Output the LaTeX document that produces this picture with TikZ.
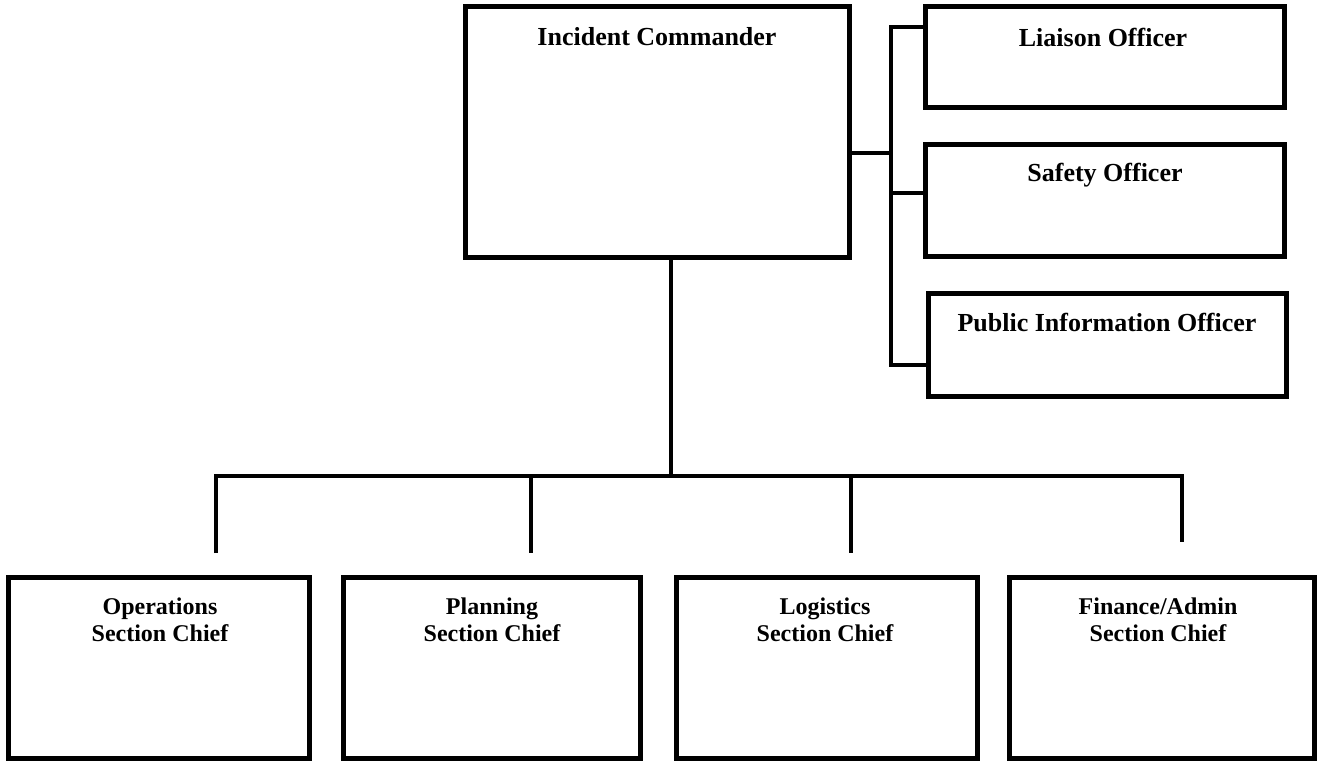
\documentclass[tikz,border=0pt]{standalone}
\usepackage{fontspec}
\setmainfont{Liberation Serif}
\usetikzlibrary{positioning}

\tikzset{
  box/.style n args={2}{draw, line width=2.5pt, minimum width=#1, minimum height=#2, inner sep=0pt},
  toplbl/.style={font=\fontsize{13}{15}\selectfont\bfseries, align=center},
  botlbl/.style={font=\fontsize{12}{13.5}\selectfont\bfseries, align=center},
  conn/.style={line width=2.2pt},
}

\begin{document}
\begin{tikzpicture}[x=0.5pt, y=-0.5pt]

  \useasboundingbox (0,0) rectangle (1317,761);

  % boxes
  \node[box={192pt}{125.5pt}] (ic) at (657,131.5) {};
  \node[box={179.5pt}{50.5pt}] (lo) at (1104.5,56.5) {};
  \node[box={179.5pt}{56pt}] (so) at (1104.5,200) {};
  \node[box={179pt}{51.5pt}] (pio) at (1107,344.5) {};
  \node[box={150.5pt}{90.5pt}] (ops) at (158.5,667.5) {};
  \node[box={148.5pt}{90.5pt}] (plan) at (491.5,667.5) {};
  \node[box={150.5pt}{90.5pt}] (log) at (826.5,667.5) {};
  \node[box={152.5pt}{90.5pt}] (fin) at (1161.5,667.5) {};

  % names of boxes
  \node[toplbl] (icT) at (657,37) {Incident Commander};
  \node[toplbl] (loT) at (1103,37) {Liaison Officer};
  \node[toplbl] (soT) at (1105,175) {Safety Officer};
  \node[toplbl] (pioT) at (1107,322) {Public Information Officer};
  \node[botlbl] (opsT) at (160,620) {Operations\\Section Chief};
  \node[botlbl] (planT) at (492,620) {Planning\\Section Chief};
  \node[botlbl] (logT) at (825,620) {Logistics\\Section Chief};
  \node[botlbl] (finT) at (1158,620) {Finance/Admin\\Section Chief};

  % free ends
  \coordinate (bus) at (671,476);
  \coordinate (d1) at (216,553);
  \coordinate (d2) at (531,553);
  \coordinate (d3) at (851,553);
  \coordinate (d4) at (1182,542);
  \coordinate (br) at (891,153);
  \coordinate (brTop) at (891,27);
  \coordinate (brMid) at (891,193);
  \coordinate (brBot) at (891,365);

  % lines
  \draw[conn] (ic.south -| bus) to (bus);
  \draw[conn] (d1) to (d1 |- bus) to (d4 |- bus) to (d4);
  \draw[conn] (d2 |- bus) to (d2);
  \draw[conn] (d3 |- bus) to (d3);

  \draw[conn] (ic.east |- br) to (br);
  \draw[conn] (lo.west |- brTop) to (brTop) to (brBot) to (pio.west |- brBot);
  \draw[conn] (brMid) to (so.west |- brMid);

\end{tikzpicture}
\end{document}
